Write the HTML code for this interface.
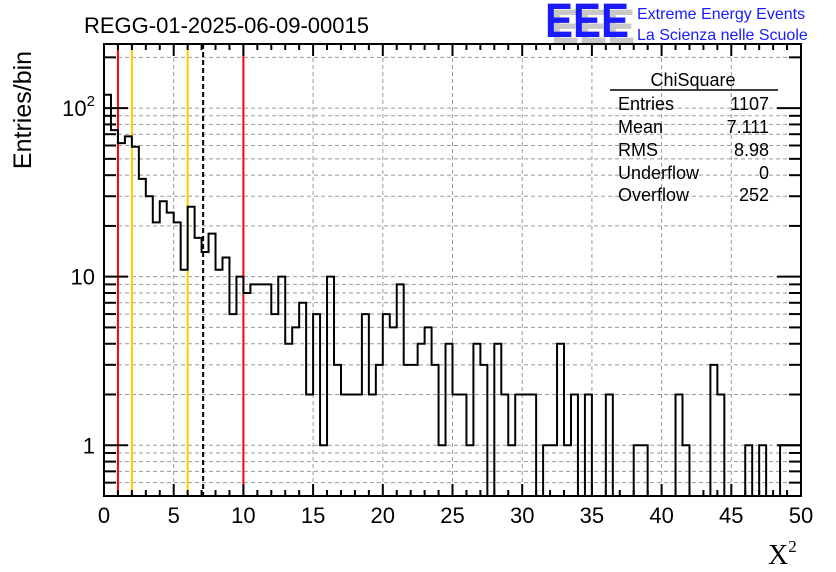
<!DOCTYPE html>
<html><head><meta charset="utf-8"><style>
body{margin:0;background:#fff}
svg{display:block;font-family:"Liberation Sans",sans-serif}
</style></head><body>
<svg id="c" width="836" height="572" viewBox="0 0 836 572">
<rect width="836" height="572" fill="#fff"/>
<g id="grid"></g>
<g id="lines"></g>
<g id="hist"></g>
<rect x="104" y="44" width="697" height="452" fill="none" stroke="#000" stroke-width="2"/>
<g id="ticks"></g>
<text x="84" y="33" font-size="22">REGG-01-2025-06-09-00015</text>
<g>
<text x="551" y="43" font-size="48" font-weight="bold" fill="#c8c8c8" textLength="84" lengthAdjust="spacingAndGlyphs">EEE</text>
<text x="545" y="37" font-size="48" font-weight="bold" fill="#1a1aff" textLength="84" lengthAdjust="spacingAndGlyphs">EEE</text>
<text x="637" y="19" font-size="16" fill="#1a1aff">Extreme Energy Events</text>
<text x="637" y="40" font-size="16" fill="#1a1aff">La Scienza nelle Scuole</text>
</g>
<g font-size="18">
<text x="693" y="86" text-anchor="middle">ChiSquare</text>
<line x1="610" y1="90" x2="778" y2="90" stroke="#000" stroke-width="1.5"/>
<text x="618" y="110">Entries</text><text x="769" y="110" text-anchor="end">1107</text>
<text x="618" y="133">Mean</text><text x="769" y="133" text-anchor="end">7.111</text>
<text x="618" y="156">RMS</text><text x="769" y="156" text-anchor="end">8.98</text>
<text x="618" y="179">Underflow</text><text x="769" y="179" text-anchor="end">0</text>
<text x="618" y="201">Overflow</text><text x="769" y="201" text-anchor="end">252</text>
</g>
<text transform="translate(31,110) rotate(-90)" font-size="25" text-anchor="middle">Entries/bin</text>
<text x="768" y="564" font-size="28" font-family="Liberation Serif,serif">X<tspan font-size="17" dy="-12">2</tspan></text>
</svg>
<script>
const counts=[120,74,62,68,59,38,30,21,28,24,21,11,26,17,14,18,11,13,6,10,8,9,9,9,6,10,4,5,7,2,6,1,10,3,2,2,2,6,2,3,6,5,9,3,3,4,5,3,1,4,2,2,1,4,3,0,4,2,1,2,2,2,0,1,1,4,1,2,0,2,0,0,2,0,0,0,1,1,0,0,0,0,2,1,0,0,0,3,2,0,0,0,1,0,1,0,0,1,1,1];
const xTicks=[0,5,10,15,20,25,30,35,40,45,50];
const yLabels=[1,10,100];
const redLines=[1,10];
const orangeLines=[2,6];
const meanLine=[7.111];
const X0=104,X1=801,Y0=496,Y1=44,xmin=0,xmax=50,ymin=0.5,ymax=240;
const NS='http://www.w3.org/2000/svg';
const sx=v=>X0+(v-xmin)/(xmax-xmin)*(X1-X0);
const sy=v=>Y0-(Math.log10(v)-Math.log10(ymin))/(Math.log10(ymax)-Math.log10(ymin))*(Y0-Y1);
function mk(p,t,a){const e=document.createElementNS(NS,t);for(const k in a)e.setAttribute(k,a[k]);document.getElementById(p).appendChild(e);return e;}
for(const t of xTicks){if(t===xmin||t===xmax)continue;
 const e=mk('grid','line',{x1:sx(t),x2:sx(t),y1:Y1,y2:Y0,stroke:'#999','stroke-dasharray':'4,3'});
 }
const yAll=[];for(let d=-1;d<=2;d++)for(let m=1;m<10;m++){const v=m*Math.pow(10,d);if(v>ymin&&v<ymax)yAll.push(v);}
for(const v of yAll){const y=sy(v);
 const e=mk('grid','line',{x1:X0,x2:X1,y1:y,y2:y,stroke:'#999','stroke-dasharray':'4,3'});
 
 const major=[1,10,100].includes(Math.round(v*1000)/1000);const L=major?24:12;
 const a=mk('ticks','line',{x1:X0,x2:X0+L,y1:y,y2:y,stroke:'#000','stroke-width':2});
 
 const b=mk('ticks','line',{x1:X1,x2:X1-L,y1:y,y2:y,stroke:'#000','stroke-width':2});
 }
for(let t=xmin;t<=xmax;t++){const x=sx(t);const L=t%5===0?12:6;
 const a=mk('ticks','line',{x1:x,x2:x,y1:Y0,y2:Y0-L,stroke:'#000','stroke-width':2});
 
 const b=mk('ticks','line',{x1:x,x2:x,y1:Y1,y2:Y1+L,stroke:'#000','stroke-width':2});
 }
for(const t of xTicks){const e=mk('ticks','text',{x:sx(t),y:Y0+27,'font-size':22,'text-anchor':'middle'});e.textContent=t;
 }
for(const v of yLabels){const e=mk('ticks','text',{x:X0-9,y:sy(v)+8,'font-size':22,'text-anchor':'end'});
 if(v===100){e.innerHTML='10<tspan font-size="15" dy="-10">2</tspan>';}else e.textContent=v;
 }
for(const v of redLines){const e=mk('lines','line',{x1:sx(v),x2:sx(v),y1:Y1,y2:Y0,stroke:'#f00','stroke-width':2});
 }
for(const v of orangeLines){const e=mk('lines','line',{x1:sx(v),x2:sx(v),y1:Y1,y2:Y0,stroke:'#fc0','stroke-width':2});
 }
for(const v of meanLine){const e=mk('lines','line',{x1:sx(v),x2:sx(v),y1:Y1,y2:Y0,stroke:'#000','stroke-width':2,'stroke-dasharray':'5,3'});
 }
const bw=(xmax-xmin)/counts.length;
let d='';
counts.forEach((c,i)=>{const y=c>0?sy(c):Y0;const xa=sx(xmin+i*bw),xb=sx(xmin+(i+1)*bw);
 d+=(i===0?`M${xa},${y}`:`L${xa},${y}`)+`L${xb},${y}`;});
const h=mk('hist','path',{d:d,fill:'none',stroke:'#000','stroke-width':2});


</script>
</body></html>
